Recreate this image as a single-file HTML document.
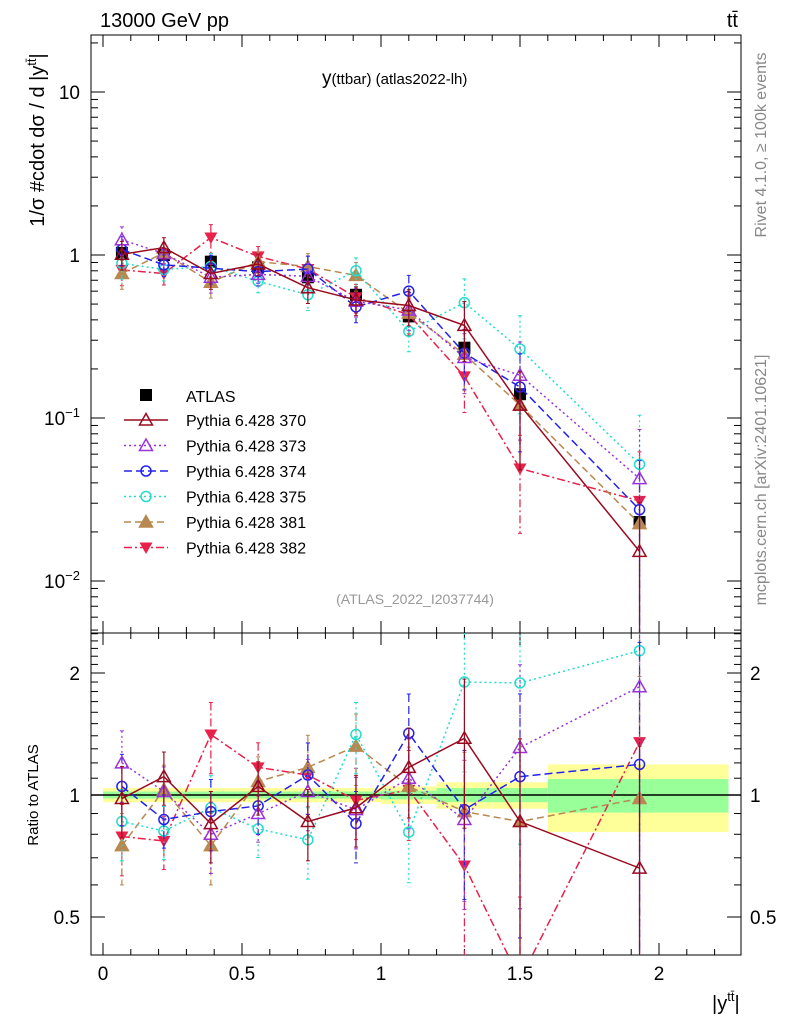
<!DOCTYPE html>
<html><head><meta charset="utf-8"><style>
html,body{margin:0;background:#fff;width:786px;height:1024px;overflow:hidden;}
svg{display:block;font-family:"Liberation Sans",sans-serif;}
</style></head><body>
<svg id="c" width="786" height="1024" xmlns="http://www.w3.org/2000/svg"></svg>
<script>
const xCenters=[0.068,0.219,0.388,0.558,0.737,0.91,1.10,1.30,1.50,1.93];
const atlasVals=[1.03,1.0,0.91,0.84,0.73,0.57,0.42,0.27,0.14,0.023];
const relErr=[0.2,0.15,0.2,0.15,0.2,0.2,0.25,0.4,0.6,1.0];
const seriesNames=["Pythia 6.428 370","Pythia 6.428 373","Pythia 6.428 374","Pythia 6.428 375","Pythia 6.428 381","Pythia 6.428 382"];
const main370=[1.01,1.11,0.77,0.88,0.63,0.53,0.49,0.37,0.12,0.0152];
const main373=[1.24,1.02,0.73,0.76,0.74,0.52,0.46,0.235,0.183,0.0425];
const main374=[1.08,0.87,0.83,0.79,0.82,0.48,0.60,0.25,0.155,0.0274];
const main375=[0.89,0.815,0.85,0.69,0.57,0.80,0.34,0.51,0.265,0.052];
const main381=[0.77,1.03,0.68,0.91,0.85,0.75,0.44,0.246,0.12,0.0225];
const main382=[0.81,0.77,1.28,0.98,0.82,0.55,0.43,0.18,0.049,0.031];
const ratio370=[0.98,1.11,0.85,1.05,0.86,0.93,1.17,1.38,0.86,0.66];
const ratio373=[1.2,1.02,0.80,0.90,1.02,0.92,1.10,0.87,1.31,1.85];
const ratio374=[1.05,0.87,0.91,0.94,1.12,0.85,1.42,0.92,1.11,1.19];
const ratio375=[0.86,0.815,0.93,0.825,0.775,1.41,0.81,1.90,1.89,2.27];
const ratio381=[0.75,1.03,0.75,1.08,1.17,1.32,1.05,0.91,0.86,0.98];
const ratio382=[0.79,0.77,1.41,1.17,1.12,0.97,1.03,0.67,0.35,1.35];
const binEdges=[0,0.14,0.3,0.48,0.66,0.82,1.0,1.2,1.4,1.6,2.25];
const bandYellow=[0.04,0.04,0.04,0.04,0.04,0.04,0.05,0.075,0.075,0.19];
const bandGreen=[0.02,0.02,0.02,0.02,0.02,0.02,0.025,0.04,0.04,0.095];

const svg=document.getElementById('c');
const NS="http://www.w3.org/2000/svg";
function el(t,a,p){const e=document.createElementNS(NS,t);for(const k in a)e.setAttribute(k,a[k]);(p||svg).appendChild(e);return e;}
const L=91,R=741,T=35,MB=633,B=955;
const X=v=>103+v*278;
const YM=v=>255-Math.log10(v)*163;
const YR=v=>795-Math.log2(v)*122;
const clipM=el('clipPath',{id:'cm'});el('rect',{x:L,y:T,width:R-L,height:MB-T},clipM);
const clipR=el('clipPath',{id:'cr'});el('rect',{x:L,y:MB,width:R-L,height:B-MB},clipR);

const band=el('g',{'clip-path':'url(#cr)'});

for(let i=0;i<bandYellow.length;i++){
 const x0=X(binEdges[i]),x1=X(binEdges[i+1]);
 const y=el('rect',{x:x0,y:YR(1+bandYellow[i]),width:x1-x0,height:YR(1-bandYellow[i])-YR(1+bandYellow[i]),fill:'#ffff99'},band);
 
 const g=el('rect',{x:x0,y:YR(1+bandGreen[i]),width:x1-x0,height:YR(1-bandGreen[i])-YR(1+bandGreen[i]),fill:'#99ff99'},band);
 
}
el('line',{x1:L,x2:R,y1:YR(1),y2:YR(1),stroke:'#000','stroke-width':1.5});

for(const [y0,y1,n] of [[T,MB,'main-frame'],[MB,B,'ratio-frame']]){const r=el('rect',{x:L,y:y0,width:R-L,height:y1-y0,fill:'none',stroke:'#000','stroke-width':1});}

for(let v=0;v<=2.25;v+=0.1){const vv=Math.round(v*10)/10;const maj=Math.abs(vv*2-Math.round(vv*2))<1e-6;const len=maj?12:6;
 for(const [yy,d] of [[MB,-1],[T,1],[B,-1],[MB,1]]) el('line',{x1:X(vv),x2:X(vv),y1:yy,y2:yy+d*len,stroke:'#000'});}
['0','0.5','1','1.5','2'].forEach((s,i)=>{const t=el('text',{x:X(i*0.5),y:980,'font-size':19,'text-anchor':'middle'});t.textContent=s;});
for(let d=-3;d<=1;d++)for(let m=1;m<10;m++){const v=m*Math.pow(10,d);const y=YM(v);if(y<T||y>MB)continue;const len=m==1?14:7;
 el('line',{x1:L,x2:L+len,y1:y,y2:y,stroke:'#000'});el('line',{x1:R,x2:R-len,y1:y,y2:y,stroke:'#000'});}
const mlab=[['10',92,''],['1',255,''],['10',418,'−1'],['10',581,'−2']];
mlab.forEach(([b,y,e])=>{const t=el('text',{x:80,y:y+7,'font-size':19,'text-anchor':'end'});t.textContent=b;if(e){const s=el('tspan',{dy:-8,'font-size':13},t);s.textContent=e;t.setAttribute('text-anchor','start');t.setAttribute('x',44);}});
const rt=[0.5,0.6,0.7,0.8,0.9,1,1.1,1.2,1.3,1.4,1.5,1.6,1.7,1.8,1.9,2,2.1,2.2,2.3,2.4,2.5];
rt.forEach(v=>{const y=YR(v);if(y<MB||y>B)return;const len=(v==0.5||v==1||v==2)?14:7;el('line',{x1:L,x2:L+len,y1:y,y2:y,stroke:'#000'});el('line',{x1:R,x2:R-len,y1:y,y2:y,stroke:'#000'});});
[['0.5',0.5],['1',1],['2',2]].forEach(([s,v])=>{for(const [x,a] of [[80,'end'],[750,'start']]){const t=el('text',{x:x,y:YR(v)+7,'font-size':19,'text-anchor':a});t.textContent=s;}});

const colors=['#990a1f','#9933dd','#2222ee','#22ddcc','#b88850','#e8204a'];
const dashes=['','2,3','8,4','2,3','7,4','8,3,2,3'];
const markers=['tri-open','tri-open','circ','circ','tri-fill','tri-down'];
const mains=[main370,main373,main374,main375,main381,main382];
const ratios=[ratio370,ratio373,ratio374,ratio375,ratio381,ratio382];
function marker(g,kind,x,y,c){
 if(kind=='tri-open'||kind=='tri-fill')el('path',{d:`M${x},${y-6.5}L${x+6.5},${y+5}L${x-6.5},${y+5}Z`,fill:kind=='tri-fill'?c:'none',stroke:c,'stroke-width':1.5},g);
 else if(kind=='tri-down')el('path',{d:`M${x},${y+6.5}L${x+6.5},${y-5}L${x-6.5},${y-5}Z`,fill:c},g);
 else el('circle',{cx:x,cy:y,r:5,fill:'none',stroke:c,'stroke-width':1.5},g);
}
function drawSeries(vals,Y,clip,name,c,dash,mk){
 const g=el('g',{'clip-path':clip});
 
 vals.forEach((v,i)=>{const e=relErr[i];const hi=v*(1+e),lo=Math.max(v*(1-e),1e-4);
  el('line',{x1:X(xCenters[i]),x2:X(xCenters[i]),y1:Y(hi),y2:Y(lo),stroke:c,'stroke-width':1.2,'stroke-dasharray':dash},g);
  el('line',{x1:X(xCenters[i])-2,x2:X(xCenters[i])+2,y1:Y(hi),y2:Y(hi),stroke:c},g);
  el('line',{x1:X(xCenters[i])-2,x2:X(xCenters[i])+2,y1:Y(lo),y2:Y(lo),stroke:c},g);});
 el('polyline',{points:vals.map((v,i)=>X(xCenters[i])+','+Y(v)).join(' '),fill:'none',stroke:c,'stroke-width':1.5,'stroke-dasharray':dash},g);
 vals.forEach((v,i)=>marker(g,mk,X(xCenters[i]),Y(v),c));
}
const ag=el('g',{'clip-path':'url(#cm)'});

atlasVals.forEach((v,i)=>{el('line',{x1:X(xCenters[i]),x2:X(xCenters[i]),y1:YM(v*1.08),y2:YM(v*0.92),stroke:'#000'},ag);el('rect',{x:X(xCenters[i])-6,y:YM(v)-6,width:12,height:12,fill:'#000'},ag);});
for(let s=5;s>=0;s--){drawSeries(mains[s],YM,'url(#cm)','main-series-'+seriesNames[s].split(' ')[2],colors[s],dashes[s],markers[s]);
 drawSeries(ratios[s],YR,'url(#cr)','ratio-series-'+seriesNames[s].split(' ')[2],colors[s],dashes[s],markers[s]);}

const lg=el('g',{});
el('rect',{x:140,y:389,width:12,height:12,fill:'#000'},lg);
let t=el('text',{x:186,y:402,'font-size':16},lg);t.textContent='ATLAS';
seriesNames.forEach((n,i)=>{const y=420+i*25.5;
 const e=el('g',{},lg);
 el('line',{x1:124,x2:168,y1:y,y2:y,stroke:colors[i],'stroke-width':1.5,'stroke-dasharray':dashes[i]},e);
 marker(e,markers[i],146,y,colors[i]);
 const tt=el('text',{x:186,y:y+6,'font-size':16},e);tt.textContent=n;});

function txt(s,a,name){const t=el('text',a);t.textContent=s;return t;}
txt('13000 GeV pp',{x:100,y:27,'font-size':20},'energy-label');
txt('tt̄',{x:738,y:27,'font-size':20,'text-anchor':'end'},'process-label');
const tl=txt('y',{x:322,y:84,'font-size':19},'plot-title');const ts=el('tspan',{'font-size':15},tl);ts.textContent='(ttbar) (atlas2022-lh)';
txt('(ATLAS_2022_I2037744)',{x:415,y:604,'font-size':14,fill:'#999','text-anchor':'middle'},'analysis-id');
txt('Rivet 4.1.0, ≥ 100k events',{x:0,y:0,'font-size':16,fill:'#888','text-anchor':'middle',transform:'translate(766,145) rotate(-90)'},'rivet-label');
txt('mcplots.cern.ch [arXiv:2401.10621]',{x:0,y:0,'font-size':16,fill:'#888','text-anchor':'middle',transform:'translate(766,480) rotate(-90)'},'mcplots-label');
const yt=txt('1/σ #cdot dσ / d |y',{x:0,y:0,'font-size':20,'text-anchor':'middle',transform:'translate(44,140) rotate(-90)'},'y-axis-title');
const yts=el('tspan',{dy:-8,'font-size':13},yt);yts.textContent='tt̄';const yte=el('tspan',{dy:8},yt);yte.textContent='|';
txt('Ratio to ATLAS',{x:0,y:0,'font-size':15,'text-anchor':'middle',transform:'translate(38,795) rotate(-90)'},'ratio-axis-title');
const xt=txt('|y',{x:712,y:1010,'font-size':20},'x-axis-title');const xs=el('tspan',{dy:-9,'font-size':13},xt);xs.textContent='tt̄';const xe=el('tspan',{dy:9},xt);xe.textContent='|';
</script>
</body></html>
